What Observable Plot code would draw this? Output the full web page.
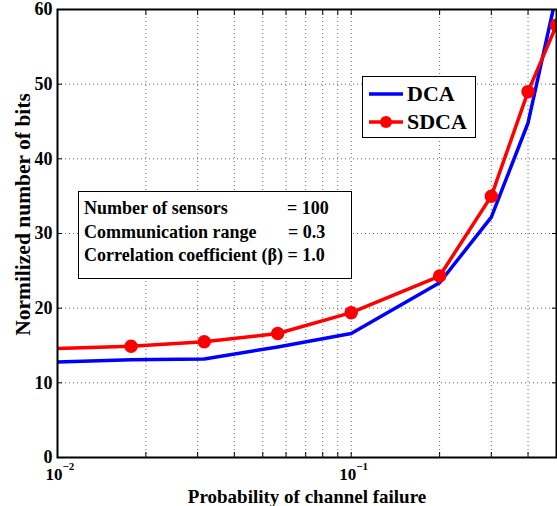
<!DOCTYPE html>
<html><head><meta charset="utf-8">
<script src="https://cdn.jsdelivr.net/npm/d3@7"></script>
<script src="https://cdn.jsdelivr.net/npm/@observablehq/plot@0.6"></script>
<style>
body{margin:0;background:#fff;font-family:"Liberation Serif","Times New Roman",serif;}
#wrap{position:relative;width:557px;height:506px;}
.box{position:absolute;background:#fff;border:1.5px solid #000;font-weight:bold;color:#000;}
</style></head>
<body><div id="wrap"></div>
<script>
const probs = [0.01, 0.0178, 0.0316, 0.0562, 0.1, 0.2, 0.3, 0.4, 0.5];
const dca   = [12.8, 13.1, 13.2, 14.8, 16.6, 23.4, 32.2, 44.8, 62.0];
const sdca  = [14.6, 14.9, 15.5, 16.6, 19.4, 24.3, 35.0, 49.0, 57.9];
const sdcaMarked = [false, true, true, true, true, true, true, true, true];
const yTicks = [0, 10, 20, 30, 40, 50, 60];
const xTicks = [0.01, 0.1];
const xTickExp = ["\u22122", "\u22121"];
const xGrid = [0.02,0.03,0.04,0.05,0.06,0.07,0.08,0.09,0.1,0.2,0.3,0.4];
const seriesNames = ["DCA", "SDCA"];
const colors = ["#0000ff", "#ff0000"];
const infoLines = [["Number of sensors", "= 100"], ["Communication range", "= 0.3"], ["Correlation coefficient (\u03b2) = 1.0", ""]];
const xLabel = "Probability of channel failure";
const yLabel = "Normilized number of bits";

const dcaData = probs.map((p,i)=>({x:p, y:dca[i]}));
const sdcaData = probs.map((p,i)=>({x:p, y:sdca[i], m:sdcaMarked[i]}));
const font = "Liberation Serif, Times New Roman, serif";

const chart = Plot.plot({
  width: 557, height: 506,
  marginLeft: 57, marginRight: 1, marginTop: 9, marginBottom: 49,
  style: {fontFamily: font, fontWeight: "bold", fontSize: "18px", color: "#000", background: "#fff"},
  x: {type: "log", domain: [0.01, 0.5]},
  y: {domain: [0, 60]},
  marks: [
    Plot.gridY(yTicks.slice(1, -1), {stroke: "#000", strokeOpacity: 0.6, strokeDasharray: "1,3"}),
    Plot.gridX(xGrid, {stroke: "#000", strokeOpacity: 0.6, strokeDasharray: "1,3"}),
    Plot.axisY(yTicks, {tickSize: -5, tickPadding: 10, label: null, fontSize: 18, fontWeight: "bold"}),
    Plot.axisY(yTicks, {anchor: "right", tickSize: -5, label: null, tickFormat: () => ""}),
    Plot.axisX(xGrid, {tickSize: -5, label: null, tickFormat: () => ""}),
    Plot.axisX(xGrid, {anchor: "top", tickSize: -5, label: null, tickFormat: () => ""}),
    Plot.text(xTicks, {x: d => d, frameAnchor: "bottom", dy: 22, text: () => "10", fontSize: 17, fontWeight: "bold", textAnchor: "end", dx: 5}),
    Plot.text(xTicks, {x: d => d, frameAnchor: "bottom", dy: 12, text: (d,i) => xTickExp[i], fontSize: 11, fontWeight: "bold", textAnchor: "start", dx: 5}),
    Plot.line(dcaData, {x: "x", y: "y", stroke: colors[0], strokeWidth: 3.5, clip: true}),
    Plot.line(sdcaData, {x: "x", y: "y", stroke: colors[1], strokeWidth: 3.5, clip: true}),
    Plot.dot(sdcaData.filter(d => d.m), {x: "x", y: "y", r: 6, fill: colors[1], stroke: colors[1], clip: true}),
    Plot.frame({stroke: "#000", strokeWidth: 2}),
    Plot.text([xLabel], {frameAnchor: "bottom", dy: 45, text: d => d, fontSize: 19, fontWeight: "bold"}),
    Plot.text([yLabel], {frameAnchor: "left", textAnchor: "middle", dx: -34, dy: -19, rotate: -90, text: d => d, fontSize: 21.5, fontWeight: "bold"})
  ]
});
const wrap = document.getElementById("wrap");
wrap.appendChild(chart);

// legend box
const leg = document.createElement("div");
leg.className = "box";
leg.style.cssText += "left:362px;top:76px;width:112px;height:60px;font-size:22px;";
leg.innerHTML = seriesNames.map((n,i)=>`<div style="position:absolute;left:6px;top:${4+i*28}px;display:flex;align-items:center;height:26px;">
<svg width="34" height="14"><line x1="0" y1="7" x2="34" y2="7" stroke="${colors[i]}" stroke-width="3.5"/>${i===1?`<circle cx="17" cy="7" r="6" fill="${colors[i]}"/>`:""}</svg>
<span style="margin-left:4px">${n}</span></div>`).join("");
wrap.appendChild(leg);

// info box
const info = document.createElement("div");
info.className = "box";
info.style.cssText += "left:78px;top:191px;width:272px;height:86px;font-size:18px;line-height:20px;";
info.innerHTML = infoLines.map((l,i)=>`<div style="position:absolute;left:5px;top:${6+i*23.5}px;white-space:nowrap">${l[0]}</div>` + (l[1]?`<div style="position:absolute;left:${i===0?208:209}px;top:${6+i*23.5}px">${l[1]}</div>`:"")).join("");
wrap.appendChild(info);
</script>
</body></html>
